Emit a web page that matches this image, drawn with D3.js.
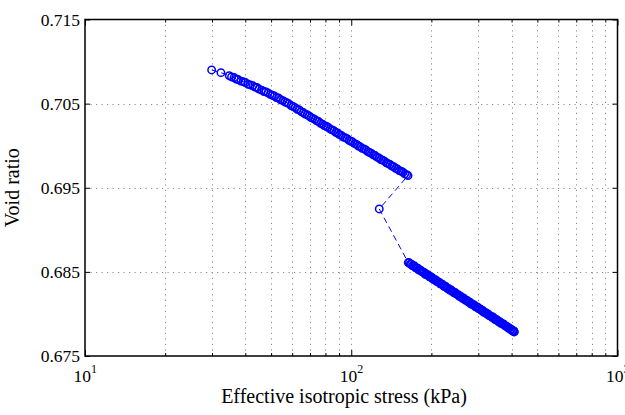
<!DOCTYPE html>
<html>
<head>
<meta charset="utf-8">
<script src="https://cdn.jsdelivr.net/npm/d3@7"></script>
<style>
  html, body { margin: 0; padding: 0; background: #fff; }
  svg { display: block; font-family: "Liberation Serif", "Times New Roman", serif; }
</style>
</head>
<body>
<svg id="chart" width="625" height="415"></svg>
<script>
// Isotropic consolidation test: loading branch, one unloading reading, reloading branch
const loadStress = [29.9, 32.4, 34.8, 35.5, 36.3, 37.0, 37.6, 38.5, 39.3, 40.0, 41.0, 41.8, 42.7, 43.5,
  44.2, 45.0, 46.1, 47.0, 47.8, 48.7, 49.6, 50.6, 51.5, 52.4, 53.3, 54.3, 55.4, 56.4, 57.3, 58.2,
  59.4, 60.5, 61.6, 62.7, 63.8, 64.9, 66.0, 67.1, 68.3, 69.5, 70.6, 71.8, 73.0, 74.2, 75.4, 76.7,
  78.0, 79.2, 80.5, 81.8, 83.2, 84.6, 86.0, 87.4, 88.9, 90.3, 91.8, 93.3, 94.9, 96.5, 98.1, 99.7,
  101.3, 103.0, 104.7, 106.4, 108.1, 109.9, 111.7, 113.5, 115.3, 117.2, 119.1, 121.0, 123.0, 125.0,
  127.0, 129.1, 131.2, 133.3, 135.5, 137.6, 139.9, 142.1, 144.4, 146.7, 149.1, 151.5, 153.9, 156.4,
  158.9, 161.4, 163.4];
const loadVoid = [0.70900, 0.70868, 0.70833, 0.70817, 0.70810, 0.70792, 0.70786, 0.70767, 0.70761,
  0.70751, 0.70730, 0.70722, 0.70712, 0.70696, 0.70692, 0.70673, 0.70661, 0.70644, 0.70639, 0.70628,
  0.70610, 0.70599, 0.70590, 0.70572, 0.70567, 0.70546, 0.70536, 0.70519, 0.70512, 0.70500, 0.70477,
  0.70465, 0.70453, 0.70433, 0.70425, 0.70404, 0.70394, 0.70376, 0.70367, 0.70353, 0.70335, 0.70324,
  0.70313, 0.70295, 0.70287, 0.70266, 0.70256, 0.70239, 0.70231, 0.70219, 0.70199, 0.70188, 0.70178,
  0.70159, 0.70151, 0.70131, 0.70122, 0.70103, 0.70095, 0.70083, 0.70063, 0.70053, 0.70043, 0.70024,
  0.70016, 0.69996, 0.69987, 0.69968, 0.69961, 0.69949, 0.69930, 0.69919, 0.69909, 0.69891, 0.69883,
  0.69863, 0.69854, 0.69836, 0.69828, 0.69816, 0.69797, 0.69787, 0.69776, 0.69758, 0.69751, 0.69731,
  0.69722, 0.69704, 0.69697, 0.69684, 0.69665, 0.69655, 0.69645];

const unloadStress = [127.4];
const unloadVoid = [0.69248];

const reloadStress = [163.7, 165.2, 166.8, 168.3, 169.9, 171.4, 173.0, 174.6, 176.2, 177.8, 179.5,
  181.1, 182.8, 184.5, 186.2, 187.9, 189.6, 191.4, 193.1, 194.9, 196.7, 198.5, 200.4, 202.2, 204.1,
  206.0, 207.9, 209.8, 211.7, 213.7, 215.7, 217.7, 219.7, 221.7, 223.8, 225.8, 227.9, 230.0, 232.2,
  234.3, 236.5, 238.7, 240.9, 243.1, 245.4, 247.6, 249.9, 252.2, 254.6, 256.9, 259.3, 261.7, 264.1,
  266.6, 269.0, 271.5, 274.0, 276.6, 279.1, 281.7, 284.3, 286.9, 289.6, 292.3, 295.0, 297.7, 300.4,
  303.2, 306.0, 308.9, 311.7, 314.6, 317.5, 320.4, 323.4, 326.4, 329.4, 332.5, 335.6, 338.7, 341.8,
  345.0, 348.2, 351.4, 354.7, 357.9, 361.3, 364.6, 368.0, 371.4, 374.8, 378.3, 381.8, 385.3, 388.9,
  392.5, 396.1, 399.8, 403.5, 406.0, 407.5, 408.3, 408.8, 409.2];
const reloadVoid = [0.68611, 0.68608, 0.68592, 0.68592, 0.68572, 0.68572, 0.68569, 0.68549, 0.68544,
  0.68545, 0.68522, 0.68523, 0.68517, 0.68499, 0.68496, 0.68494, 0.68471, 0.68475, 0.68461, 0.68462,
  0.68441, 0.68439, 0.68436, 0.68416, 0.68416, 0.68402, 0.68405, 0.68385, 0.68381, 0.68377, 0.68357,
  0.68358, 0.68354, 0.68336, 0.68325, 0.68330, 0.68316, 0.68301, 0.68302, 0.68282, 0.68288, 0.68272,
  0.68268, 0.68251, 0.68256, 0.68238, 0.68232, 0.68229, 0.68209, 0.68212, 0.68201, 0.68186, 0.68191,
  0.68173, 0.68161, 0.68163, 0.68151, 0.68138, 0.68141, 0.68118, 0.68120, 0.68109, 0.68107, 0.68087,
  0.68082, 0.68084, 0.68062, 0.68062, 0.68055, 0.68039, 0.68042, 0.68019, 0.68019, 0.68015, 0.67999,
  0.68000, 0.67980, 0.67977, 0.67973, 0.67956, 0.67960, 0.67942, 0.67929, 0.67933, 0.67922, 0.67907,
  0.67909, 0.67889, 0.67890, 0.67878, 0.67877, 0.67857, 0.67854, 0.67850, 0.67831, 0.67834, 0.67818,
  0.67815, 0.67800, 0.67802, 0.67794, 0.67796, 0.67789, 0.67786];

const xMajorTicks = [10, 100, 1000];
const xTickExponents = ["1", "2", "3"];
const xMinorTicks = [20, 30, 40, 50, 60, 70, 80, 90, 200, 300, 400, 500, 600, 700, 800, 900];
const yTicks = [0.675, 0.685, 0.695, 0.705, 0.715];
const xLabel = "Effective isotropic stress (kPa)";
const yLabel = "Void ratio";

// One continuous record in test order
const stress = loadStress.concat(unloadStress, reloadStress);
const voidRatio = loadVoid.concat(unloadVoid, reloadVoid);
const points = stress.map((s, i) => ({ s, e: voidRatio[i] }));

const plot = { left: 85, right: 617.5, top: 19.5, bottom: 356 };
const svg = d3.select("#chart");

const x = d3.scaleLog().domain([10, 1000]).range([plot.left, plot.right]);
const y = d3.scaleLinear().domain([0.675, 0.715]).range([plot.bottom, plot.top]);

// Dotted grid
const grid = svg.append("g")
  .attr("stroke", "#8a8a8a")
  .attr("stroke-width", 1)
  .attr("stroke-dasharray", "1.2,4.3")
  .attr("fill", "none");
grid.selectAll("line.gx")
  .data(xMinorTicks.concat([100]))
  .join("line")
  .attr("x1", d => Math.round(x(d)) + 0.5).attr("x2", d => Math.round(x(d)) + 0.5)
  .attr("y1", plot.bottom).attr("y2", plot.top);
grid.selectAll("line.gy")
  .data(yTicks.slice(1, -1))
  .join("line")
  .attr("x1", plot.left).attr("x2", plot.right)
  .attr("y1", d => Math.round(y(d)) + 0.5).attr("y2", d => Math.round(y(d)) + 0.5);

// Tick marks pointing inward on all four sides
function tickAxis(axisGen, tx, ty) {
  const g = svg.append("g").attr("transform", `translate(${tx},${ty})`).call(axisGen);
  g.select(".domain").remove();
  g.selectAll(".tick line").attr("stroke", "#000").attr("stroke-width", 1);
  return g;
}
tickAxis(d3.axisBottom(x).tickValues(xMajorTicks).tickSize(-6).tickFormat(""), 0, plot.bottom);
tickAxis(d3.axisBottom(x).tickValues(xMinorTicks).tickSize(-3).tickFormat(""), 0, plot.bottom);
tickAxis(d3.axisTop(x).tickValues(xMajorTicks).tickSize(-6).tickFormat(""), 0, plot.top);
tickAxis(d3.axisTop(x).tickValues(xMinorTicks).tickSize(-3).tickFormat(""), 0, plot.top);
tickAxis(d3.axisRight(y).tickValues(yTicks).tickSize(-5).tickFormat(""), plot.right, 0);

const yAxis = tickAxis(d3.axisLeft(y).tickValues(yTicks).tickSize(-5).tickPadding(5)
  .tickFormat(d3.format(".3f")), plot.left, 0);
yAxis.selectAll(".tick text")
  .attr("fill", "#000")
  .style("font-family", '"Liberation Serif", serif')
  .style("font-size", "17.5px");

// Power-of-ten labels on the log axis
const xl = svg.append("g").attr("fill", "#000");
xMajorTicks.forEach((v, i) => {
  const t = xl.append("text")
    .attr("x", x(v) - 11.5)
    .attr("y", 382)
    .style("font-size", "17.5px");
  t.append("tspan").text("10");
  t.append("tspan").attr("dy", -9).style("font-size", "12px").text(xTickExponents[i]);
});

// Box
svg.append("rect")
  .attr("x", plot.left).attr("y", plot.top)
  .attr("width", plot.right - plot.left).attr("height", plot.bottom - plot.top)
  .attr("fill", "none").attr("stroke", "#000").attr("stroke-width", 1.5);

// Data: dashed connecting line and open circle markers
const line = d3.line().x(d => x(d.s)).y(d => y(d.e));
svg.append("path")
  .datum(points)
  .attr("d", line)
  .attr("fill", "none")
  .attr("stroke", "#0000ff")
  .attr("stroke-width", 1)
  .attr("stroke-dasharray", "6,4");
svg.append("g")
  .selectAll("circle")
  .data(points)
  .join("circle")
  .attr("cx", d => x(d.s))
  .attr("cy", d => y(d.e))
  .attr("r", 3.7)
  .attr("fill", "none")
  .attr("stroke", "#0000ff")
  .attr("stroke-width", 1.5);

// Axis titles
svg.append("text")
  .attr("x", 344).attr("y", 403)
  .attr("text-anchor", "middle")
  .style("font-size", "20px")
  .text(xLabel);
svg.append("text")
  .attr("transform", `translate(18.5,${(plot.top + plot.bottom) / 2}) rotate(-90)`)
  .attr("text-anchor", "middle")
  .style("font-size", "20px")
  .text(yLabel);
</script>
</body>
</html>
